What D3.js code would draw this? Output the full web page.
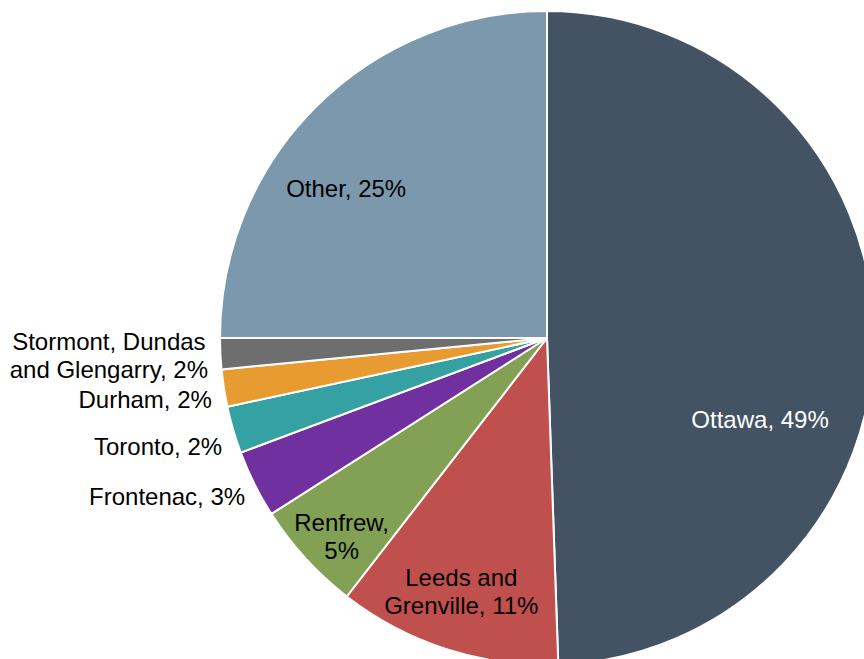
<!DOCTYPE html>
<html>
<head>
<meta charset="utf-8">
<script src="https://cdn.jsdelivr.net/npm/d3@7"></script>
<style>
  html, body { margin: 0; padding: 0; background: #ffffff; }
  svg { display: block; }
  text { font-family: "Liberation Sans", Arial, sans-serif; }
</style>
</head>
<body>
<svg id="chart" width="864" height="659"></svg>
<script>
// ---- data ----
const categories = ["Ottawa", "Leeds and Grenville", "Renfrew", "Frontenac", "Toronto", "Durham", "Stormont, Dundas and Glengarry", "Other"];
const shares = [49.45, 11.04, 5.47, 3.34, 2.33, 1.84, 1.53, 25.0];
const labelLines = [
  ["Ottawa, {p}"],
  ["Leeds and", "Grenville, {p}"],
  ["Renfrew,", "{p}"],
  ["Frontenac, {p}"],
  ["Toronto, {p}"],
  ["Durham, {p}"],
  ["Stormont, Dundas", "and Glengarry, {p}"],
  ["Other, {p}"]
];
const colors = ["#435364", "#c0504d", "#82a155", "#7030a0", "#35a1a3", "#e89b30", "#6e6e6e", "#7b98ad"];

// ---- label layout (radius fraction, angle shift in degrees, placement) ----
const labelLayout = [
  { k: 0.697, shift: 21.8, outside: false, fill: "#ffffff" },
  { k: 0.818, shift: 0.8, outside: false, fill: "#000000" },
  { k: 0.873, shift: -1.6, outside: false, fill: "#000000" },
  { k: 1.043, shift: -1.2, outside: true, fill: "#000000" },
  { k: 1.048, shift: -2.2, outside: true, fill: "#000000" },
  { k: 1.042, shift: -1.6, outside: true, fill: "#000000" },
  { k: 1.038, shift: -0.2, outside: true, fill: "#000000" },
  { k: 0.766, shift: -8.3, outside: false, fill: "#000000" }
];

const cx = 547, cy = 338, R = 327;
const fontSize = 24, lineH = 28, capH = 0.716 * fontSize;

const data = categories.map((c, i) => ({ name: c, value: shares[i], i }));
const pie = d3.pie().value(d => d.value).sort(null);
const arcs = pie(data);
const arc = d3.arc().innerRadius(0).outerRadius(R);

const svg = d3.select("#chart");
const g = svg.append("g").attr("transform", `translate(${cx},${cy})`);

g.selectAll("path.slice")
  .data(arcs)
  .join("path")
  .attr("class", "slice")
  .attr("d", arc)
  .attr("fill", d => colors[d.data.i])
  .attr("stroke", "#ffffff")
  .attr("stroke-width", 2)
  .attr("stroke-linejoin", "round");

const labelsG = g.append("g");
arcs.forEach(a => {
  const i = a.data.i;
  const lay = labelLayout[i];
  const mid = (a.startAngle + a.endAngle) / 2 + lay.shift * Math.PI / 180;
  const rr = lay.k * R;
  const px = rr * Math.sin(mid);
  const py = -rr * Math.cos(mid);
  const pct = Math.round(a.data.value) + "%";
  const lines = labelLines[i].map(s => s.replace("{p}", pct));
  const n = lines.length;
  const t = labelsG.append("text")
    .attr("font-size", fontSize)
    .attr("fill", lay.fill)
    .attr("text-anchor", "middle");
  const spans = lines.map((ln, j) =>
    t.append("tspan")
      .attr("x", px)
      .attr("y", py - (n - 1) * lineH / 2 + capH / 2 + j * lineH)
      .text(ln)
  );
  if (lay.outside) {
    const w = d3.max(spans, s => s.node().getComputedTextLength());
    spans.forEach(s => s.attr("x", px - w / 2));
  }
});
</script>
</body>
</html>
